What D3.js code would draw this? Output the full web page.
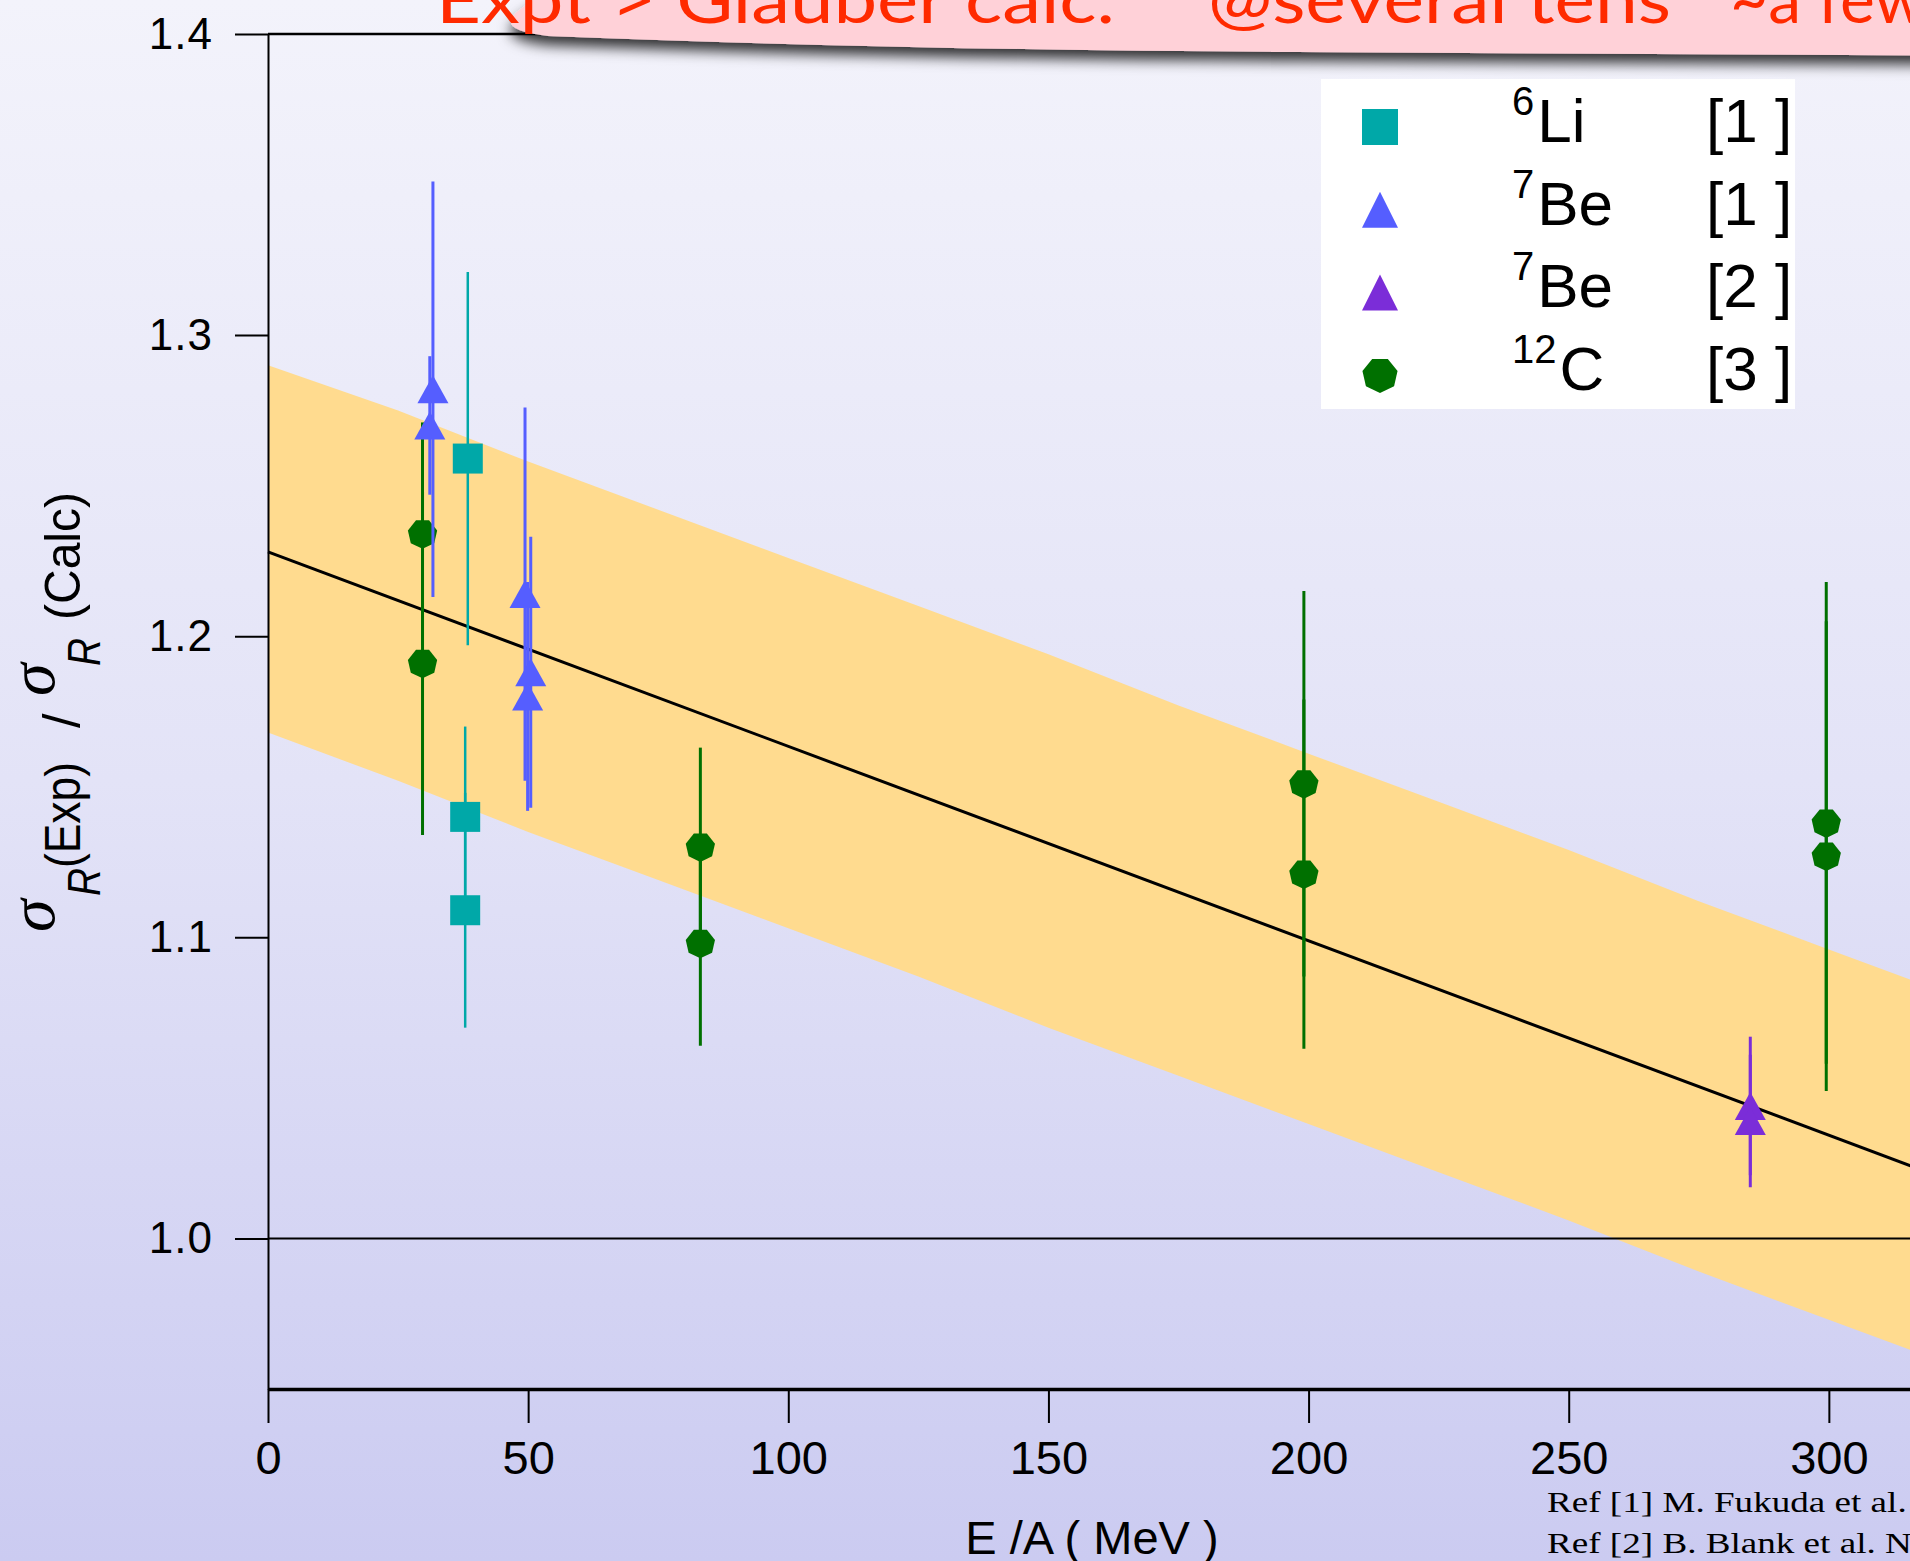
<!DOCTYPE html>
<html>
<head>
<meta charset="utf-8">
<script src="https://cdn.jsdelivr.net/npm/d3@7"></script>
<style>
  html, body { margin: 0; padding: 0; overflow: hidden; background: #fff; }
  svg { display: block; }
</style>
</head>
<body>
<svg id="chart"></svg>
<script>
const CHART_WIDTH = 1910;
const CHART_HEIGHT = 1561;
const PLOT = { left: 268, top: 34, bottom: 1389, right: 2089 };

// tick labels
const energyTicks = [0, 50, 100, 150, 200, 250, 300];
const ratioTicks = [1.0, 1.1, 1.2, 1.3, 1.4];

// [E/A (MeV), sigma_R(Exp)/sigma_R(Calc), error]
const li6 = [[38.4, 1.259, 0.062], [37.9, 1.140, 0.030], [37.9, 1.109, 0.039]];
const be7Ref1 = [[31.7, 1.282, 0.069], [31.1, 1.270, 0.023], [49.4, 1.214, 0.062],
                 [50.5, 1.188, 0.045], [49.9, 1.180, 0.038]];
const be7Ref2 = [[284.9, 1.044, 0.023], [284.9, 1.039, 0.022]];
const c12 = [[29.7, 1.234, 0.037], [29.7, 1.191, 0.057], [83.1, 1.130, 0.033], [83.1, 1.098, 0.034],
             [199.1, 1.151, 0.064], [199.1, 1.121, 0.058], [299.5, 1.138, 0.080], [299.5, 1.127, 0.078]];

// uncertainty band of the Glauber systematics and the linear fit
const bandE  = [0, 25, 50, 75, 100, 125, 150, 175, 200, 225, 250, 275, 300, 325, 350];
const bandHi = [1.290, 1.275, 1.258, 1.242, 1.226, 1.210, 1.194, 1.177, 1.161, 1.145, 1.129, 1.112, 1.096, 1.080, 1.064];
const bandLo = [1.168, 1.152, 1.135, 1.119, 1.103, 1.087, 1.070, 1.054, 1.038, 1.022, 1.006, 0.989, 0.973, 0.957, 0.941];
const fitE = [0, 350];
const fitR = [1.228, 1.002];
const refLineR = 1.0;

const COLORS = { li6: "#00a8a8", be7a: "#555eff", be7b: "#7b2dd8", c12: "#007000" };

const svg = d3.select("#chart")
    .attr("width", CHART_WIDTH)
    .attr("height", CHART_HEIGHT)

const defs = svg.append("defs")
const grad = defs.append("linearGradient").attr("id", "bg")
    .attr("x1", 0).attr("y1", 0).attr("x2", 0).attr("y2", 1)
grad.append("stop").attr("offset", 0).attr("stop-color", "#f3f3fb")
grad.append("stop").attr("offset", 0.5).attr("stop-color", "#e3e3f7")
grad.append("stop").attr("offset", 1).attr("stop-color", "#cbcbf1")

defs.append("filter").attr("id", "shadow")
    .attr("x", "-10%").attr("y", "-50%").attr("width", "120%").attr("height", "260%")
  .append("feDropShadow")
    .attr("dx", 0).attr("dy", 9).attr("stdDeviation", 7)
    .attr("flood-color", "#000").attr("flood-opacity", 0.8)

svg.append("rect").attr("width", CHART_WIDTH).attr("height", CHART_HEIGHT).attr("fill", "url(#bg)")

const x = d3.scaleLinear().domain([0, 350]).range([PLOT.left, PLOT.right])
const y = d3.scaleLinear().domain([0.95, 1.4]).range([PLOT.bottom, PLOT.top])

const plot = svg.append("g")

// band
const bandData = bandE.map((e, i) => ({ e: e, hi: bandHi[i], lo: bandLo[i] }))
plot.append("path")
    .datum(bandData)
    .attr("fill", "#ffdb8f")
    .attr("d", d3.area().x(d => x(d.e)).y0(d => y(d.lo)).y1(d => y(d.hi)))

// 1.0 reference and fit line
plot.append("line")
    .attr("x1", x(0)).attr("x2", x(350)).attr("y1", y(refLineR)).attr("y2", y(refLineR))
    .attr("stroke", "#000").attr("stroke-width", 2)

plot.append("path")
    .datum(fitE.map((e, i) => [e, fitR[i]]))
    .attr("fill", "none").attr("stroke", "#000").attr("stroke-width", 3)
    .attr("d", d3.line().x(d => x(d[0])).y(d => y(d[1])))

// marker shapes
function squarePath(w, h) {
    return `M${-w/2},${-h/2}h${w}v${h}h${-w}Z`
}
function trianglePath(w, h) {
    return `M0,${-h/2}L${w/2},${h/2}L${-w/2},${h/2}Z`
}
function heptagonPath(r) {
    const pts = d3.range(7).map(k => {
        const a = Math.PI / 2 + k * 2 * Math.PI / 7
        return [r * Math.cos(a), r * Math.sin(a)]
    })
    return "M" + pts.map(p => p.join(",")).join("L") + "Z"
}

function drawSeries(data, color, shape, barWidth) {
    const g = plot.append("g")
    g.selectAll("line")
        .data(data)
        .join("line")
        .attr("x1", d => x(d[0])).attr("x2", d => x(d[0]))
        .attr("y1", d => y(d[1] - d[2])).attr("y2", d => y(d[1] + d[2]))
        .attr("stroke", color).attr("stroke-width", barWidth)
    g.selectAll("path")
        .data(data)
        .join("path")
        .attr("transform", d => `translate(${x(d[0])},${y(d[1])})`)
        .attr("d", shape)
        .attr("fill", color)
}

drawSeries(c12, COLORS.c12, heptagonPath(15), 3)
drawSeries(li6, COLORS.li6, squarePath(30, 30), 2.5)
drawSeries(be7Ref1, COLORS.be7a, trianglePath(31, 28), 3)
drawSeries(be7Ref2, COLORS.be7b, trianglePath(31, 28), 3)

// axes
const yAxis = svg.append("g")
    .attr("transform", `translate(${PLOT.left},0)`)
    .call(d3.axisLeft(y).tickValues(ratioTicks).tickFormat(d3.format(".1f"))
        .tickSize(33).tickSizeOuter(0).tickPadding(22))
yAxis.attr("font-size", 44).attr("font-family", "Liberation Sans, Arial, sans-serif")
yAxis.selectAll("text").attr("fill", "#000").attr("letter-spacing", 1)
yAxis.selectAll("line").attr("stroke", "#000").attr("stroke-width", 2)
yAxis.select(".domain").attr("stroke", "#000").attr("stroke-width", 2)

const xAxis = svg.append("g")
    .attr("transform", `translate(0,${PLOT.bottom})`)
    .call(d3.axisBottom(x).tickValues(energyTicks).tickSize(34).tickSizeOuter(0).tickPadding(18))
xAxis.attr("font-size", 47).attr("font-family", "Liberation Sans, Arial, sans-serif")
xAxis.selectAll("text").attr("fill", "#000")
xAxis.selectAll("line").attr("stroke", "#000").attr("stroke-width", 2)
xAxis.select(".domain").attr("stroke", "#000").attr("stroke-width", 3.5)

// top frame
svg.append("line")
    .attr("x1", PLOT.left).attr("x2", PLOT.right).attr("y1", y(1.4)).attr("y2", y(1.4))
    .attr("stroke", "#000").attr("stroke-width", 2.5)

// legend
const legendItems = [
    { shape: squarePath(36, 36), color: COLORS.li6, mass: "6", el: "Li", ref: "[1 ]" },
    { shape: trianglePath(36, 36), color: COLORS.be7a, mass: "7", el: "Be", ref: "[1 ]" },
    { shape: trianglePath(36, 36), color: COLORS.be7b, mass: "7", el: "Be", ref: "[2 ]" },
    { shape: heptagonPath(18), color: COLORS.c12, mass: "12", el: "C", ref: "[3 ]" }
]
const legend = svg.append("g")
legend.append("rect")
    .attr("x", 1321).attr("y", 79).attr("width", 474).attr("height", 330)
    .attr("fill", "#fff")
const rows = legend.selectAll("g.row")
    .data(legendItems)
    .join("g")
    .attr("class", "row")
    .attr("transform", (d, i) => `translate(0,${142 + i * 82.7})`)
rows.append("path")
    .attr("transform", "translate(1380,-15)")
    .attr("d", d => d.shape)
    .attr("fill", d => d.color)
const lbl = rows.append("text")
    .attr("x", 1512).attr("y", 0)
    .attr("font-family", "Liberation Sans, Arial, sans-serif")
    .attr("fill", "#000")
lbl.append("tspan").attr("font-size", 40).attr("dy", -27).text(d => d.mass)
lbl.append("tspan").attr("font-size", 62).attr("dy", 27).attr("dx", 3).text(d => d.el)
rows.append("text")
    .attr("x", 1706).attr("y", 0)
    .attr("font-family", "Liberation Sans, Arial, sans-serif")
    .attr("font-size", 62)
    .attr("xml:space", "preserve")
    .style("white-space", "pre")
    .text(d => d.ref)

// title banner
svg.append("path")
    .attr("d", "M2000,-40L640,-40Q560,-22 522,8Q490,30 548,36Q900,50 1300,52L2000,56Z")
    .attr("fill", "#ffd1d8")
    .attr("filter", "url(#shadow)")

const title = svg.append("g")
    .attr("font-family", "Lato, 'Open Sans', sans-serif")
    .attr("font-size", 66)
    .attr("fill", "#ff2a00")
title.append("text").attr("x", 436).attr("y", 23)
    .attr("textLength", 679).attr("lengthAdjust", "spacingAndGlyphs")
    .text("Expt > Glauber calc.")
title.append("text").attr("x", 1208).attr("y", 23)
    .attr("textLength", 463).attr("lengthAdjust", "spacingAndGlyphs")
    .text("@several tens")
title.append("text").attr("x", 1730).attr("y", 23)
    .text("~a few hundred MeV")

// axis titles
svg.append("text")
    .attr("x", 1092).attr("y", 1554)
    .attr("text-anchor", "middle")
    .attr("font-family", "Liberation Sans, Arial, sans-serif")
    .attr("font-size", 47)
    .attr("xml:space", "preserve")
    .style("white-space", "pre")
    .text("E /A ( MeV )")

const yl = svg.append("g")
    .attr("transform", "translate(0,932) rotate(-90)")
    .attr("fill", "#000")
function sigma(t) {
    yl.append("text").attr("x", t).attr("y", 54)
        .attr("font-family", "Liberation Serif, serif").attr("font-style", "italic")
        .attr("font-size", 66).text("σ")
}
function subR(t) {
    yl.append("text").attr("x", t).attr("y", 100)
        .attr("font-family", "Liberation Sans, Arial, sans-serif").attr("font-style", "italic")
        .attr("font-size", 46).attr("textLength", 28).attr("lengthAdjust", "spacingAndGlyphs")
        .text("R")
}
function paren(t, s, len) {
    yl.append("text").attr("x", t).attr("y", 80)
        .attr("font-family", "Liberation Sans, Arial, sans-serif")
        .attr("font-size", 50)
        .attr("textLength", len).attr("lengthAdjust", "spacingAndGlyphs")
        .text(s)
}
sigma(0)
subR(36)
paren(64, "(Exp)", 106)
yl.append("text").attr("x", 204).attr("y", 80)
    .attr("font-family", "Liberation Sans, Arial, sans-serif")
    .attr("font-size", 52).text("/")
sigma(236)
subR(266)
paren(312, "(Calc)", 128)

// references
const refs = svg.append("g")
    .attr("transform", "translate(1547,0) scale(1.28,1)")
    .attr("font-family", "Liberation Serif, 'Times New Roman', serif")
    .attr("font-size", 29)
    .attr("fill", "#000")
refs.append("text").attr("x", 0).attr("y", 1512).text("Ref [1] M. Fukuda et al. Phys. Lett. B 268 (1991) 339")
refs.append("text").attr("x", 0).attr("y", 1553).text("Ref [2] B. Blank et al. Nucl. Phys. A 555 (1993) 408")
</script>
</body>
</html>
